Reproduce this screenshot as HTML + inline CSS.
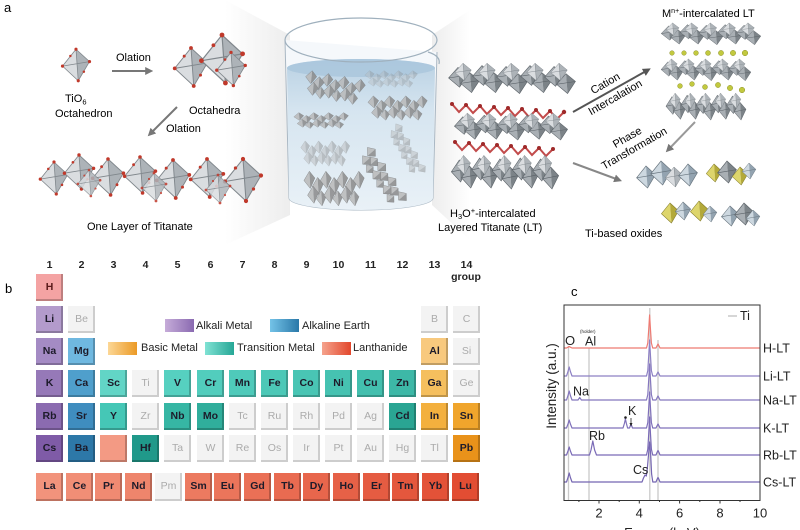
<!DOCTYPE html>
<html><head><meta charset="utf-8"><style>
html,body{margin:0;padding:0;background:#fff;}
body{position:relative;width:800px;height:530px;overflow:hidden;font-family:"Liberation Sans",Arial,sans-serif;}
svg{position:absolute;left:0;top:0;display:block;font-family:"Liberation Sans",Arial,sans-serif;}
.c{position:absolute;width:27px;height:27px;box-shadow:inset -2px -2px 0 rgba(0,0,0,.22);font-weight:bold;font-size:10.5px;text-align:center;line-height:26px;color:#1d1b2a;}
.l{height:28px;line-height:27px;}
.g{background:#f3f3f3;color:#ababab;font-weight:normal;box-shadow:inset -2px -2px 0 #cdcdcd;}
.n{position:absolute;width:27px;text-align:center;font-weight:bold;font-size:10.5px;top:259px;line-height:12px;color:#222;}
.sw{position:absolute;height:13px;width:29px;}
.lt{position:absolute;font-size:11px;color:#222;line-height:13px;}
</style></head><body>
<svg width="800" height="530" viewBox="0 0 800 530" xmlns="http://www.w3.org/2000/svg">
<defs>
 <linearGradient id="wedL" x1="0" y1="0" x2="1" y2="0"><stop offset="0" stop-color="#fff"/><stop offset="1" stop-color="#ededed"/></linearGradient>
 <linearGradient id="wedR" x1="0" y1="0" x2="1" y2="0"><stop offset="0" stop-color="#ededed"/><stop offset="1" stop-color="#fff"/></linearGradient>
 <linearGradient id="liq" x1="0" y1="0" x2="0" y2="1"><stop offset="0" stop-color="#b9d1e3"/><stop offset=".35" stop-color="#d6e5f0"/><stop offset="1" stop-color="#e9f1f7"/></linearGradient>
 <symbol id="o" viewBox="-2 -2 28 32">
  <polygon points="12,0 0,15 14,28" fill="#dadde0"/>
  <polygon points="12,0 24,11 14,28" fill="#adb3b8"/>
  <path d="M12,0 L24,11 L14,28 L0,15 Z M0,15 L24,11 M12,0 L14,28" fill="none" stroke="#80878c" stroke-width=".7"/>
 </symbol>
 <symbol id="or" viewBox="-2 -2 28 32">
  <use href="#o" x="-2" y="-2" width="28" height="32"/>
  <g fill="#c0392b"><circle cx="12" cy="0" r="1.4"/><circle cx="24" cy="11" r="1.4"/><circle cx="14" cy="28" r="1.4"/><circle cx="0" cy="15" r="1.4"/><circle cx="7" cy="6" r="1.1"/><circle cx="19" cy="20" r="1.1"/></g>
 </symbol>
 <symbol id="od" viewBox="-2 -2 28 32">
  <polygon points="12,0 0,15 14,28" fill="#a9afb4"/>
  <polygon points="12,0 24,11 14,28" fill="#7c8388"/>
  <path d="M12,0 L24,11 L14,28 L0,15 Z M0,15 L24,11" fill="none" stroke="#5b6268" stroke-width=".8"/>
 </symbol>
 <symbol id="og" viewBox="-2 -2 28 32">
  <polygon points="12,0 0,15 14,28" fill="#b9b9b9"/>
  <polygon points="12,0 24,11 14,28" fill="#8a8a8a"/>
  <path d="M12,0 L24,11 L14,28 L0,15 Z" fill="none" stroke="#6c6c6c" stroke-width=".8"/>
 </symbol>
 <symbol id="ob" viewBox="-2 -2 28 32">
  <polygon points="12,0 0,15 14,28" fill="#cdd8e0"/>
  <polygon points="12,0 24,11 14,28" fill="#93a3b0"/>
  <path d="M12,0 L24,11 L14,28 L0,15 Z M0,15 L24,11" fill="none" stroke="#66737d" stroke-width=".8"/>
 </symbol>
 <symbol id="oy" viewBox="-2 -2 28 32">
  <polygon points="12,0 0,15 14,28" fill="#ddd56c"/>
  <polygon points="12,0 24,11 14,28" fill="#b3a93a"/>
  <path d="M12,0 L24,11 L14,28 L0,15 Z" fill="none" stroke="#867f2c" stroke-width=".8"/>
 </symbol>
 <symbol id="L" viewBox="0 0 130 40" preserveAspectRatio="none">
  <use href="#od" x="0" y="4" width="22" height="26"/><use href="#od" x="12" y="10" width="22" height="26"/>
  <use href="#od" x="24" y="2" width="22" height="26"/><use href="#od" x="36" y="10" width="22" height="26"/>
  <use href="#od" x="48" y="3" width="22" height="26"/><use href="#od" x="60" y="11" width="22" height="26"/>
  <use href="#od" x="72" y="2" width="22" height="26"/><use href="#od" x="84" y="10" width="22" height="26"/>
  <use href="#od" x="96" y="3" width="22" height="26"/><use href="#od" x="108" y="11" width="22" height="26"/>
  <use href="#o" x="6" y="0" width="20" height="22"/><use href="#o" x="30" y="0" width="20" height="22"/>
  <use href="#o" x="54" y="0" width="20" height="22"/><use href="#o" x="78" y="0" width="20" height="22"/>
  <use href="#o" x="102" y="0" width="20" height="22"/>
 </symbol>
 <symbol id="C" viewBox="0 0 70 30" preserveAspectRatio="none">
  <use href="#og" x="0" y="0" width="14" height="16"/><use href="#og" x="9" y="5" width="14" height="16"/>
  <use href="#og" x="18" y="0" width="14" height="16"/><use href="#og" x="27" y="5" width="14" height="16"/>
  <use href="#og" x="36" y="0" width="14" height="16"/><use href="#og" x="45" y="5" width="14" height="16"/>
  <use href="#og" x="54" y="0" width="14" height="16"/>
  <use href="#og" x="4" y="12" width="14" height="16"/><use href="#og" x="13" y="16" width="14" height="14"/>
  <use href="#og" x="22" y="12" width="14" height="16"/><use href="#og" x="31" y="16" width="14" height="14"/>
  <use href="#og" x="40" y="12" width="14" height="16"/><use href="#og" x="49" y="16" width="14" height="14"/>
 </symbol>
 <marker id="ah" viewBox="0 0 10 10" refX="6" refY="5" markerWidth="4" markerHeight="4" orient="auto"><path d="M0,0 L10,5 L0,10 Z" fill="#777"/></marker>
 <marker id="ah2" viewBox="0 0 10 10" refX="6" refY="5" markerWidth="4" markerHeight="4" orient="auto"><path d="M0,0 L10,5 L0,10 Z" fill="#555"/></marker>
</defs>

<!-- background wedges -->
<polygon points="225,0 290,35 290,215 225,245" fill="url(#wedL)"/>
<polygon points="432,35 470,10 470,240 432,205" fill="url(#wedR)"/>

<!-- panel a labels -->
<text x="4" y="12" font-size="13">a</text>
<use href="#or" x="58" y="47" width="36" height="36"/>
<text x="116" y="61" font-size="11">Olation</text>
<line x1="112" y1="71" x2="150" y2="71" stroke="#777" stroke-width="2" marker-end="url(#ah)"/>
<text x="65" y="102" font-size="11">TiO<tspan font-size="7.5" dy="2.5">6</tspan></text>
<text x="55" y="117" font-size="11">Octahedron</text>
<use href="#or" x="172" y="45" width="38" height="44"/>
<use href="#or" x="198" y="30" width="48" height="58"/>
<use href="#or" x="214" y="50" width="34" height="38"/>
<text x="189" y="114" font-size="11">Octahedra</text>
<text x="166" y="132" font-size="11">Olation</text>
<line x1="177" y1="107" x2="150" y2="134" stroke="#777" stroke-width="2" marker-end="url(#ah)"/>
<!-- one layer -->
<use href="#or" x="38" y="158" width="32" height="40"/>
<use href="#or" x="62" y="150" width="34" height="44"/>
<use href="#or" x="90" y="152" width="36" height="50"/>
<use href="#or" x="122" y="148" width="36" height="54"/>
<use href="#or" x="154" y="150" width="38" height="58"/>
<use href="#or" x="188" y="148" width="38" height="60"/>
<use href="#or" x="222" y="150" width="42" height="60"/>
<use href="#or" x="76" y="168" width="26" height="30" opacity=".85"/>
<use href="#or" x="140" y="170" width="28" height="34" opacity=".85"/>
<use href="#or" x="204" y="170" width="28" height="38" opacity=".85"/>
<text x="87" y="230" font-size="11">One Layer of Titanate</text>

<!-- beaker -->
<path d="M285,40 L289,198 A72,12 0 0 0 433,198 L437,52" fill="#f5f8fb" stroke="#a9b7c3" stroke-width="1"/>
<path d="M287,68 L289,198 A72,12 0 0 0 433,198 L435,68 A74,9 0 0 0 287,68 Z" fill="url(#liq)"/>
<ellipse cx="361" cy="68" rx="74" ry="9" fill="#a9c6dc" opacity=".8"/>
<ellipse cx="361" cy="40" rx="76" ry="22" fill="none" stroke="#9fb0bd" stroke-width="1.2"/>
<path d="M428,52 Q441,56 439,64" fill="none" stroke="#9fb0bd" stroke-width="1.2"/>
<g opacity=".85">
 <use href="#C" x="303" y="74" width="64" height="28" transform="rotate(10 335 89)"/>
 <use href="#C" x="367" y="95" width="63" height="26"/>
 <use href="#C" x="293" y="112" width="58" height="17"/>
 <use href="#C" x="300" y="140" width="52" height="27" opacity=".55"/>
 <use href="#C" x="303" y="170" width="64" height="37"/>
 <use href="#C" x="348" y="167" width="70" height="22" transform="rotate(55 383 178)"/>
 <use href="#C" x="377" y="142" width="60" height="18" transform="rotate(60 407 151)" opacity=".55"/>
 <use href="#C" x="364" y="70" width="56" height="18" opacity=".4"/>
</g>

<!-- H3O+ LT -->
<use href="#L" x="447" y="62" width="130" height="36"/>
<polyline points="452,104 459,112 466,105 473,113 480,106 487,114 494,107 501,115 508,108 515,116 522,109 529,117 536,110 543,118 550,111 557,119 564,112" fill="none" stroke="#c24b4b" stroke-width="2"/>
<g fill="#9f2a2a"><circle cx="452" cy="104" r="2"/><circle cx="466" cy="105" r="2"/><circle cx="480" cy="106" r="2"/><circle cx="494" cy="107" r="2"/><circle cx="508" cy="108" r="2"/><circle cx="522" cy="109" r="2"/><circle cx="536" cy="110" r="2"/><circle cx="550" cy="111" r="2"/><circle cx="564" cy="112" r="2.2"/></g>
<use href="#L" x="453" y="112" width="116" height="32"/>
<polyline points="455,142 462,150 469,143 476,151 483,144 490,152 497,145 504,153 511,146 518,154 525,147 532,155 539,148 546,156 553,149" fill="none" stroke="#c24b4b" stroke-width="2"/>
<g fill="#9f2a2a"><circle cx="455" cy="142" r="2"/><circle cx="469" cy="143" r="2"/><circle cx="483" cy="144" r="2"/><circle cx="497" cy="145" r="2"/><circle cx="511" cy="146" r="2"/><circle cx="525" cy="147" r="2"/><circle cx="539" cy="148" r="2"/><circle cx="553" cy="149" r="2"/></g>
<use href="#L" x="450" y="154" width="110" height="40"/>
<text x="450" y="217" font-size="11">H<tspan font-size="7.5" dy="2">3</tspan><tspan dy="-2">O</tspan><tspan font-size="7.5" dy="-4">+</tspan><tspan dy="4">-intercalated</tspan></text>
<text x="438" y="231" font-size="11">Layered Titanate (LT)</text>

<!-- arrows right -->
<text x="605" y="87" font-size="11" text-anchor="middle" transform="rotate(-30 605 83)">Cation</text>
<text x="615" y="101" font-size="11" text-anchor="middle" transform="rotate(-30 615 97)">Intercalation</text>
<line x1="573" y1="112" x2="648" y2="70" stroke="#555" stroke-width="2" marker-end="url(#ah2)"/>
<text x="627" y="141" font-size="11" text-anchor="middle" transform="rotate(-30 627 137)">Phase</text>
<text x="634" y="152" font-size="11" text-anchor="middle" transform="rotate(-30 634 148)">Transformation</text>
<line x1="695" y1="122" x2="668" y2="150" stroke="#999" stroke-width="2" marker-end="url(#ah)"/>
<line x1="573" y1="163" x2="619" y2="180" stroke="#888" stroke-width="2" marker-end="url(#ah)"/>

<!-- Mn+ LT -->
<text x="662" y="17" font-size="11">M<tspan font-size="7" dy="-4">n+</tspan><tspan dy="4">-intercalated LT</tspan></text>
<use href="#L" x="660" y="22" width="102" height="26"/>
<g fill="#c2c93f" stroke="#8f9430" stroke-width=".5"><circle cx="672" cy="53" r="2.3"/><circle cx="684" cy="53" r="2.3"/><circle cx="696" cy="53" r="2.4"/><circle cx="708" cy="53" r="2.5"/><circle cx="721" cy="53" r="2.6"/><circle cx="733" cy="53" r="2.7"/><circle cx="745" cy="53" r="2.8"/></g>
<use href="#L" x="660" y="58" width="92" height="26"/>
<g fill="#c2c93f" stroke="#8f9430" stroke-width=".5"><circle cx="680" cy="86" r="2.4"/><circle cx="692" cy="84" r="2.4"/><circle cx="705" cy="87" r="2.5"/><circle cx="718" cy="85" r="2.6"/><circle cx="730" cy="88" r="2.7"/><circle cx="742" cy="90" r="2.8"/></g>
<use href="#L" x="665" y="92" width="82" height="32"/>

<!-- Ti based oxides -->
<use href="#ob" x="635" y="163" width="22" height="28"/><use href="#ob" x="649" y="157" width="24" height="32"/>
<use href="#o" x="664" y="164" width="20" height="26"/><use href="#ob" x="677" y="159" width="22" height="32"/>
<use href="#oy" x="705" y="162" width="18" height="22"/><use href="#od" x="716" y="157" width="22" height="30"/>
<use href="#oy" x="731" y="163" width="18" height="26"/><use href="#ob" x="741" y="159" width="16" height="24"/>
<use href="#oy" x="660" y="200" width="20" height="26"/><use href="#ob" x="674" y="198" width="18" height="26"/>
<use href="#oy" x="689" y="197" width="20" height="28"/><use href="#ob" x="702" y="202" width="16" height="24"/>
<use href="#ob" x="720" y="202" width="20" height="28"/><use href="#od" x="733" y="198" width="22" height="32"/>
<use href="#ob" x="745" y="206" width="16" height="24"/>
<text x="585" y="237" font-size="11">Ti-based oxides</text>

<!-- panel labels b, c -->
<text x="5" y="293" font-size="13">b</text>
<text x="571" y="296" font-size="13">c</text>

<!-- chart c -->
<g stroke="#cacaca" stroke-width="1.3">
 <line x1="568.5" y1="346" x2="568.5" y2="500"/>
 <line x1="589" y1="348" x2="589" y2="500"/>
 <line x1="649.8" y1="308" x2="649.8" y2="500"/>
 <line x1="658" y1="340" x2="658" y2="500"/>
</g>
<g fill="none" stroke-width="1.2" stroke-linejoin="round">
<path stroke="#ee7a72" d="M564,348 L566.5,348 L568,347.2 L569.2,346.5 L570.4,347.2 L572,348 L646.5,348 L647.8,343 L648.7,329.8 L649.6,315 L650.5,329.8 L651.4,343 L652.7,348 L656,348 L657.2,345.5 L658,344 L658.8,345.5 L660,348 L760,348"/>
<path stroke="#8d80c4" d="M564,376 L566.5,376 L568,371.5 L569.2,367 L570.4,371.5 L572,376 L646.5,376 L647.8,370.6 L648.7,356.2 L649.6,340 L650.5,356.2 L651.4,370.6 L652.7,376 L656,376 L657.2,373.5 L658,372 L658.8,373.5 L660,376 L760,376"/>
<path stroke="#8577be" d="M564,400 L566.5,400 L568,395.5 L569.2,391 L570.4,395.5 L572,400 L578,400 L579.7,397.5 L581.4,400 L646.5,400 L647.8,394.6 L648.7,380.2 L649.6,364 L650.5,380.2 L651.4,394.6 L652.7,400 L656,400 L657.2,397.5 L658,396 L658.8,397.5 L660,400 L760,400"/>
<path stroke="#7f70ba" d="M564,428 L566.5,428 L568,424 L569.2,420 L570.4,424 L572,428 L623,428 L624.4,423.5 L625.4,419 L626.4,423.5 L627.6,428 L629.5,428 L631,424 L632.5,428 L646.5,428 L647.8,422.6 L648.7,408.2 L649.6,392 L650.5,408.2 L651.4,422.6 L652.7,428 L656,428 L657.2,425.5 L658,424 L658.8,425.5 L660,428 L760,428"/>
<path stroke="#7a6ab6" d="M564,455 L566.5,455 L568,451 L569.2,447 L570.4,451 L572,455 L589.5,455 L591,450 L592.8,441 L594.6,450 L596.5,455 L646.5,455 L647.8,449.3 L648.7,434.1 L649.6,417 L650.5,434.1 L651.4,449.3 L652.7,455 L656,455 L657.2,452 L658,450.5 L658.8,452 L660,455 L760,455"/>
<path stroke="#7566b2" d="M564,482 L566.5,482 L568,477.5 L569.2,473 L570.4,477.5 L572,482 L642,482 L643.5,478 L645,475 L646.3,476 L647.2,470 L648.5,455 L649.6,442 L650.7,455 L651.6,474 L652.8,482 L656,482 L657.2,479 L658,477.5 L658.8,479 L660,482 L760,482"/>
</g>
<rect x="564" y="305" width="196" height="195.5" fill="none" stroke="#333" stroke-width="1"/>
<g stroke="#333" stroke-width="1">
 <line x1="599" y1="500" x2="599" y2="503.5"/><line x1="639.3" y1="500" x2="639.3" y2="503.5"/><line x1="679.6" y1="500" x2="679.6" y2="503.5"/><line x1="720" y1="500" x2="720" y2="503.5"/>
 <line x1="578.9" y1="500" x2="578.9" y2="502"/><line x1="619.2" y1="500" x2="619.2" y2="502"/><line x1="659.5" y1="500" x2="659.5" y2="502"/><line x1="699.8" y1="500" x2="699.8" y2="502"/><line x1="740" y1="500" x2="740" y2="502"/>
</g>
<g font-size="13" fill="#222" text-anchor="middle">
 <text x="599" y="517.5">2</text><text x="639.3" y="517.5">4</text><text x="679.6" y="517.5">6</text><text x="720" y="517.5">8</text><text x="760" y="517.5">10</text>
</g>
<text x="662" y="537" font-size="13" text-anchor="middle" fill="#222">Energy (keV)</text>
<text x="0" y="0" font-size="13.5" text-anchor="middle" fill="#222" transform="translate(556 386) rotate(-90)">Intensity (a.u.)</text>
<line x1="728" y1="316" x2="737" y2="316" stroke="#c8c8c8" stroke-width="1.5"/>
<text x="740" y="320" font-size="12.5" fill="#222">Ti</text>
<g font-size="12.5" fill="#222">
 <text x="763" y="352.5">H-LT</text><text x="763" y="380.5">Li-LT</text><text x="763" y="404.5">Na-LT</text>
 <text x="763" y="432.5">K-LT</text><text x="763" y="459.5">Rb-LT</text><text x="763" y="486.5">Cs-LT</text>
</g>
<g fill="#222">
 <text x="565" y="345" font-size="13">O</text>
 <text x="580" y="333" font-size="4.5">(holder)</text>
 <text x="585" y="345.5" font-size="12.5">Al</text>
 <text x="573" y="395.5" font-size="12.5">Na</text>
 <text x="628" y="415" font-size="12.5">K</text>
 <text x="589" y="440" font-size="12.5">Rb</text>
 <text x="633" y="474" font-size="12.5">Cs</text>
</g>
<circle cx="625.5" cy="417.5" r="1.3" fill="#222"/>
<line x1="631" y1="418" x2="631" y2="425" stroke="#222" stroke-width=".8"/>
<path d="M629.5,423 L631,426.5 L632.5,423 Z" fill="#222"/>
</svg>

<!-- group numbers -->
<div class="n" style="left:36px">1</div><div class="n" style="left:68px">2</div><div class="n" style="left:100px">3</div><div class="n" style="left:132px">4</div><div class="n" style="left:164px">5</div><div class="n" style="left:197px">6</div><div class="n" style="left:229px">7</div><div class="n" style="left:261px">8</div><div class="n" style="left:293px">9</div><div class="n" style="left:325px">10</div><div class="n" style="left:357px">11</div><div class="n" style="left:389px">12</div><div class="n" style="left:421px">13</div><div class="n" style="left:453px">14</div>
<div class="n" style="left:446px;top:271px;width:40px">group</div>

<!-- legend -->
<div class="sw" style="left:165px;top:319px;background:linear-gradient(90deg,#c6acd9,#8a6ab1)"></div><div class="lt" style="left:196px;top:320px">Alkali Metal</div>
<div class="sw" style="left:270px;top:319px;background:linear-gradient(90deg,#74c3e8,#2a78a8)"></div><div class="lt" style="left:302px;top:320px">Alkaline Earth</div>
<div class="sw" style="left:108px;top:342px;background:linear-gradient(90deg,#fcd796,#eb9a26)"></div><div class="lt" style="left:141px;top:342px">Basic Metal</div>
<div class="sw" style="left:205px;top:342px;background:linear-gradient(90deg,#80e2d4,#26a796)"></div><div class="lt" style="left:237px;top:342px">Transition Metal</div>
<div class="sw" style="left:322px;top:342px;background:linear-gradient(90deg,#f5a38d,#e2472c)"></div><div class="lt" style="left:353px;top:342px">Lanthanide</div>

<!-- row 1 -->
<div class="c" style="left:36px;top:274px;background:#f4a3a3;color:#5a1a1a">H</div>
<!-- row 2 -->
<div class="c" style="left:36px;top:306px;background:#b39bcc">Li</div>
<div class="c g" style="left:68px;top:306px">Be</div>
<div class="c g" style="left:421px;top:306px">B</div>
<div class="c g" style="left:453px;top:306px">C</div>
<!-- row 3 -->
<div class="c" style="left:36px;top:338px;background:#a48bc4">Na</div>
<div class="c" style="left:68px;top:338px;background:#6fb8e0">Mg</div>
<div class="c" style="left:421px;top:338px;background:#f8c97e">Al</div>
<div class="c g" style="left:453px;top:338px">Si</div>
<!-- row 4 -->
<div class="c" style="left:36px;top:370px;background:#9679b8">K</div>
<div class="c" style="left:68px;top:370px;background:#4f9fcc">Ca</div>
<div class="c" style="left:100px;top:370px;background:#62d5c6">Sc</div>
<div class="c g" style="left:132px;top:370px">Ti</div>
<div class="c" style="left:164px;top:370px;background:#56d0c0">V</div>
<div class="c" style="left:197px;top:370px;background:#52cdbd">Cr</div>
<div class="c" style="left:229px;top:370px;background:#4fcaba">Mn</div>
<div class="c" style="left:261px;top:370px;background:#4cc8b7">Fe</div>
<div class="c" style="left:293px;top:370px;background:#49c5b4">Co</div>
<div class="c" style="left:325px;top:370px;background:#46c2b1">Ni</div>
<div class="c" style="left:357px;top:370px;background:#43bfae">Cu</div>
<div class="c" style="left:389px;top:370px;background:#3db8a7">Zn</div>
<div class="c" style="left:421px;top:370px;background:#f5bf5e">Ga</div>
<div class="c g" style="left:453px;top:370px">Ge</div>
<!-- row 5 -->
<div class="c" style="left:36px;top:403px;background:#8b6bb0">Rb</div>
<div class="c" style="left:68px;top:403px;background:#3f8dbf">Sr</div>
<div class="c" style="left:100px;top:403px;background:#45c7b6">Y</div>
<div class="c g" style="left:132px;top:403px">Zr</div>
<div class="c" style="left:164px;top:403px;background:#36b6a4">Nb</div>
<div class="c" style="left:197px;top:403px;background:#30ae9c">Mo</div>
<div class="c g" style="left:229px;top:403px">Tc</div>
<div class="c g" style="left:261px;top:403px">Ru</div>
<div class="c g" style="left:293px;top:403px">Rh</div>
<div class="c g" style="left:325px;top:403px">Pd</div>
<div class="c g" style="left:357px;top:403px">Ag</div>
<div class="c" style="left:389px;top:403px;background:#2aa593">Cd</div>
<div class="c" style="left:421px;top:403px;background:#f3b03e">In</div>
<div class="c" style="left:453px;top:403px;background:#f0a52c">Sn</div>
<!-- row 6 -->
<div class="c" style="left:36px;top:435px;background:#7f5ba7">Cs</div>
<div class="c" style="left:68px;top:435px;background:#2d78a8">Ba</div>
<div class="c" style="left:100px;top:435px;background:#f39a84"></div>
<div class="c" style="left:132px;top:435px;background:#20998a">Hf</div>
<div class="c g" style="left:164px;top:435px">Ta</div>
<div class="c g" style="left:197px;top:435px">W</div>
<div class="c g" style="left:229px;top:435px">Re</div>
<div class="c g" style="left:261px;top:435px">Os</div>
<div class="c g" style="left:293px;top:435px">Ir</div>
<div class="c g" style="left:325px;top:435px">Pt</div>
<div class="c g" style="left:357px;top:435px">Au</div>
<div class="c g" style="left:389px;top:435px">Hg</div>
<div class="c g" style="left:421px;top:435px">Tl</div>
<div class="c" style="left:453px;top:435px;background:#e9921a">Pb</div>
<!-- lanthanides -->
<div class="c l" style="left:36px;top:473px;background:#f2937c">La</div>
<div class="c l" style="left:66px;top:473px;background:#f18e76">Ce</div>
<div class="c l" style="left:95px;top:473px;background:#f08a72">Pr</div>
<div class="c l" style="left:125px;top:473px;background:#ee856c">Nd</div>
<div class="c l g" style="left:155px;top:473px">Pm</div>
<div class="c l" style="left:185px;top:473px;background:#ec7a60">Sm</div>
<div class="c l" style="left:214px;top:473px;background:#eb755b">Eu</div>
<div class="c l" style="left:244px;top:473px;background:#ea7056">Gd</div>
<div class="c l" style="left:274px;top:473px;background:#e96b51">Tb</div>
<div class="c l" style="left:303px;top:473px;background:#e8664c">Dy</div>
<div class="c l" style="left:333px;top:473px;background:#e66147">Ho</div>
<div class="c l" style="left:363px;top:473px;background:#e55c42">Er</div>
<div class="c l" style="left:392px;top:473px;background:#e4573d">Tm</div>
<div class="c l" style="left:422px;top:473px;background:#e35238">Yb</div>
<div class="c l" style="left:452px;top:473px;background:#e24d33">Lu</div>
</body></html>
